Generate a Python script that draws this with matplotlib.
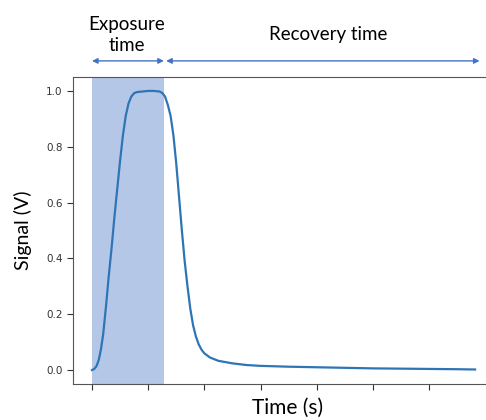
import matplotlib.pyplot as plt

# signal trace read along the time axis (arbitrary time units, ticks unlabeled)
time_s = [0.00, 0.04, 0.08, 0.12, 0.16, 0.20, 0.25, 0.30, 0.35, 0.40, 0.45,
          0.50, 0.55, 0.60, 0.65, 0.70, 0.75, 0.80, 0.90, 1.00, 1.10,
          1.20, 1.25, 1.30, 1.35, 1.40, 1.45, 1.50, 1.55, 1.60, 1.65,
          1.70, 1.75, 1.80, 1.85, 1.90, 1.95, 2.00, 2.10, 2.25, 2.50, 2.75,
          3.00, 3.50, 4.00, 4.50, 5.00, 5.50, 6.00, 6.50, 6.82]
signal_v = [0.000, 0.004, 0.014, 0.036, 0.075, 0.130, 0.230, 0.340, 0.440, 0.550, 0.650,
            0.750, 0.840, 0.910, 0.955, 0.980, 0.992, 0.996, 0.998, 1.000, 1.000,
            0.998, 0.993, 0.980, 0.950, 0.910, 0.840, 0.740, 0.620, 0.500, 0.390,
            0.300, 0.220, 0.160, 0.120, 0.092, 0.073, 0.060, 0.045, 0.033, 0.024, 0.018,
            0.015, 0.012, 0.010, 0.008, 0.006, 0.005, 0.004, 0.003, 0.002]

exposure_start, exposure_end = 0.0, 1.28
recovery_start, recovery_end = 1.32, 6.9
x_ticks = [0, 1, 2, 3, 4, 5, 6]
y_ticks = [0.0, 0.2, 0.4, 0.6, 0.8, 1.0]

label_font = ['Lato', 'DejaVu Sans']
arrow_blue = '#4472c4'

fig = plt.figure(figsize=(4.86, 4.2), dpi=100)
ax = fig.add_axes([0.150, 0.0857, 0.883, 0.731])

ax.axvspan(exposure_start, exposure_end, color='#b4c7e7', lw=0)
ax.plot(time_s, signal_v, color='#2e75b6', lw=1.6)
ax.set_xlim(-0.34, 7.3)

ax.set_xticks(x_ticks)
ax.set_xticklabels([])
ax.set_yticks(y_ticks)
ax.tick_params(labelsize=7.5, length=4, width=0.8, colors='#333333')
for s in ax.spines.values():
    s.set_color('#555555')

ax.set_xlabel('Time (s)', fontsize=15, family=label_font)
ax.xaxis.set_label_coords(0.50, -0.045)
ax.set_ylabel('Signal (V)', fontsize=14, family=label_font, labelpad=10)

# span arrows above the axes
arrow_y = 0.855
for a, b in [(exposure_start, exposure_end), (recovery_start, recovery_end)]:
    ax.annotate('', xy=(a, arrow_y), xytext=(b, arrow_y),
                xycoords=('data', 'figure fraction'),
                textcoords=('data', 'figure fraction'),
                arrowprops=dict(arrowstyle='<|-|>', color=arrow_blue,
                                lw=1.0, mutation_scale=8, shrinkA=0, shrinkB=0))

ax.annotate('Exposure\ntime', xy=(0.62, 0.917), xycoords=('data', 'figure fraction'),
            ha='center', va='center', fontsize=13.5, family=label_font,
            linespacing=1.3, annotation_clip=False)
ax.annotate('Recovery time', xy=(4.2, 0.917), xycoords=('data', 'figure fraction'),
            ha='center', va='center', fontsize=13.5, family=label_font,
            annotation_clip=False)

fig.savefig('out.png', dpi=100)
